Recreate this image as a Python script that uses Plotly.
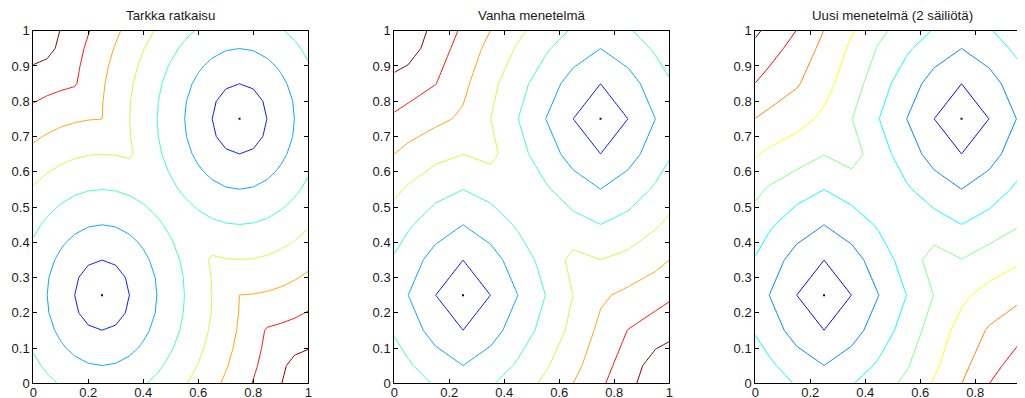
import plotly.graph_objects as go

# ---------------- data ----------------
titles = ["Tarkka ratkaisu", "Vanha menetelmä", "Uusi menetelmä (2 säiliötä)"]

# wells (level-0 points)
wells_x = [0.25, 0.75]
wells_y = [0.25, 0.75]

# fine grid (exact solution)
grid_fine = [0, 0.05, 0.1, 0.15, 0.2, 0.25, 0.3, 0.35, 0.4, 0.45, 0.5,
             0.55, 0.6, 0.65, 0.7, 0.75, 0.8, 0.85, 0.9, 0.95, 1.0]

# coarse grid (numerical methods)
grid_coarse = [0, 0.05, 0.15, 0.25, 0.35, 0.45, 0.55, 0.65, 0.75, 0.85, 0.95, 1.0]

z_exact = [
    [3.54, 3.2, 2.92, 2.69, 2.55, 2.5, 2.55, 2.69, 2.92, 3.2, 3.54, 3.91, 4.3, 4.72, 5.15, 5.59, 6.04, 6.5, 6.96, 7.43, 7.91],
    [3.2, 2.83, 2.5, 2.24, 2.06, 2.0, 2.06, 2.24, 2.5, 2.83, 3.2, 3.61, 4.03, 4.47, 4.92, 5.39, 5.85, 6.32, 6.8, 7.28, 7.43],
    [2.92, 2.5, 2.12, 1.8, 1.58, 1.5, 1.58, 1.8, 2.12, 2.5, 2.92, 3.35, 3.81, 4.27, 4.74, 5.22, 5.7, 6.19, 6.67, 6.8, 6.96],
    [2.69, 2.24, 1.8, 1.41, 1.12, 1.0, 1.12, 1.41, 1.8, 2.24, 2.69, 3.16, 3.64, 4.12, 4.61, 5.1, 5.59, 6.08, 6.19, 6.32, 6.5],
    [2.55, 2.06, 1.58, 1.12, 0.71, 0.5, 0.71, 1.12, 1.58, 2.06, 2.55, 3.04, 3.54, 4.03, 4.53, 5.03, 5.52, 5.59, 5.7, 5.85, 6.04],
    [2.5, 2.0, 1.5, 1.0, 0.5, 0.0, 0.5, 1.0, 1.5, 2.0, 2.5, 3.0, 3.5, 4.0, 4.5, 5.0, 5.03, 5.1, 5.22, 5.39, 5.59],
    [2.55, 2.06, 1.58, 1.12, 0.71, 0.5, 0.71, 1.12, 1.58, 2.06, 2.55, 3.04, 3.54, 4.03, 4.53, 4.5, 4.53, 4.61, 4.74, 4.92, 5.15],
    [2.69, 2.24, 1.8, 1.41, 1.12, 1.0, 1.12, 1.41, 1.8, 2.24, 2.69, 3.16, 3.64, 4.12, 4.03, 4.0, 4.03, 4.12, 4.27, 4.47, 4.72],
    [2.92, 2.5, 2.12, 1.8, 1.58, 1.5, 1.58, 1.8, 2.12, 2.5, 2.92, 3.35, 3.81, 3.64, 3.54, 3.5, 3.54, 3.64, 3.81, 4.03, 4.3],
    [3.2, 2.83, 2.5, 2.24, 2.06, 2.0, 2.06, 2.24, 2.5, 2.83, 3.2, 3.61, 3.35, 3.16, 3.04, 3.0, 3.04, 3.16, 3.35, 3.61, 3.91],
    [3.54, 3.2, 2.92, 2.69, 2.55, 2.5, 2.55, 2.69, 2.92, 3.2, 3.54, 3.2, 2.92, 2.69, 2.55, 2.5, 2.55, 2.69, 2.92, 3.2, 3.54],
    [3.91, 3.61, 3.35, 3.16, 3.04, 3.0, 3.04, 3.16, 3.35, 3.61, 3.2, 2.83, 2.5, 2.24, 2.06, 2.0, 2.06, 2.24, 2.5, 2.83, 3.2],
    [4.3, 4.03, 3.81, 3.64, 3.54, 3.5, 3.54, 3.64, 3.81, 3.35, 2.92, 2.5, 2.12, 1.8, 1.58, 1.5, 1.58, 1.8, 2.12, 2.5, 2.92],
    [4.72, 4.47, 4.27, 4.12, 4.03, 4.0, 4.03, 4.12, 3.64, 3.16, 2.69, 2.24, 1.8, 1.41, 1.12, 1.0, 1.12, 1.41, 1.8, 2.24, 2.69],
    [5.15, 4.92, 4.74, 4.61, 4.53, 4.5, 4.53, 4.03, 3.54, 3.04, 2.55, 2.06, 1.58, 1.12, 0.71, 0.5, 0.71, 1.12, 1.58, 2.06, 2.55],
    [5.59, 5.39, 5.22, 5.1, 5.03, 5.0, 4.5, 4.0, 3.5, 3.0, 2.5, 2.0, 1.5, 1.0, 0.5, 0.0, 0.5, 1.0, 1.5, 2.0, 2.5],
    [6.04, 5.85, 5.7, 5.59, 5.52, 5.03, 4.53, 4.03, 3.54, 3.04, 2.55, 2.06, 1.58, 1.12, 0.71, 0.5, 0.71, 1.12, 1.58, 2.06, 2.55],
    [6.5, 6.32, 6.19, 6.08, 5.59, 5.1, 4.61, 4.12, 3.64, 3.16, 2.69, 2.24, 1.8, 1.41, 1.12, 1.0, 1.12, 1.41, 1.8, 2.24, 2.69],
    [6.96, 6.8, 6.67, 6.19, 5.7, 5.22, 4.74, 4.27, 3.81, 3.35, 2.92, 2.5, 2.12, 1.8, 1.58, 1.5, 1.58, 1.8, 2.12, 2.5, 2.92],
    [7.43, 7.28, 6.8, 6.32, 5.85, 5.39, 4.92, 4.47, 4.03, 3.61, 3.2, 2.83, 2.5, 2.24, 2.06, 2.0, 2.06, 2.24, 2.5, 2.83, 3.2],
    [7.91, 7.43, 6.96, 6.5, 6.04, 5.59, 5.15, 4.72, 4.3, 3.91, 3.54, 3.2, 2.92, 2.69, 2.55, 2.5, 2.55, 2.69, 2.92, 3.2, 3.54],
]

z_old = [
    [3.83, 3.50, 2.89, 2.5, 2.89, 3.50, 4.20, 4.99, 5.83, 6.71, 7.61, 8.07],
    [3.50, 3.13, 2.45, 2.0, 2.45, 3.13, 3.88, 4.71, 5.59, 6.50, 7.43, 7.61],
    [2.89, 2.45, 1.63, 1.0, 1.63, 2.45, 3.34, 4.26, 5.22, 6.02, 6.50, 6.71],
    [2.5, 2.0, 1.0, 0.0, 1.0, 2.0, 3.0, 4.0, 4.85, 5.22, 5.59, 5.83],
    [2.89, 2.45, 1.63, 1.0, 1.63, 2.45, 3.34, 4.26, 4.0, 4.26, 4.71, 4.99],
    [3.50, 3.13, 2.45, 2.0, 2.45, 3.13, 3.88, 3.34, 3.0, 3.34, 3.88, 4.20],
    [4.20, 3.88, 3.34, 3.0, 3.34, 3.88, 3.13, 2.45, 2.0, 2.45, 3.13, 3.50],
    [4.99, 4.71, 4.26, 4.0, 4.26, 3.34, 2.45, 1.63, 1.0, 1.63, 2.45, 2.89],
    [5.83, 5.59, 5.22, 4.85, 4.0, 3.0, 2.0, 1.0, 0.0, 1.0, 2.0, 2.5],
    [6.71, 6.50, 6.02, 5.22, 4.26, 3.34, 2.45, 1.63, 1.0, 1.63, 2.45, 2.89],
    [7.61, 7.43, 6.50, 5.59, 4.71, 3.88, 3.13, 2.45, 2.0, 2.45, 3.13, 3.50],
    [8.07, 7.61, 6.71, 5.83, 4.99, 4.20, 3.50, 2.89, 2.5, 2.89, 3.50, 3.83],
]

z_new = [
    [3.9, 3.6, 2.9, 2.5, 2.93, 3.55, 4.22, 5.08, 5.98, 6.98, 7.76, 8.16],
    [3.6, 3.2, 2.45, 2.0, 2.45, 3.15, 3.9, 4.82, 5.74, 6.62, 7.41, 7.76],
    [2.9, 2.45, 1.63, 1.0, 1.63, 2.45, 3.42, 4.45, 5.34, 6.1, 6.62, 6.98],
    [2.5, 2.0, 1.0, 0.0, 1.0, 2.0, 3.0, 4.02, 4.8, 5.34, 5.74, 5.98],
    [2.93, 2.45, 1.63, 1.0, 1.63, 2.45, 3.44, 4.4, 4.02, 4.45, 4.82, 5.08],
    [3.55, 3.15, 2.45, 2.0, 2.45, 3.13, 3.85, 3.44, 3.0, 3.42, 3.9, 4.22],
    [4.22, 3.9, 3.42, 3.0, 3.44, 3.85, 3.13, 2.45, 2.0, 2.45, 3.15, 3.55],
    [5.08, 4.82, 4.45, 4.02, 4.4, 3.44, 2.45, 1.63, 1.0, 1.63, 2.45, 2.93],
    [5.98, 5.74, 5.34, 4.8, 4.02, 3.0, 2.0, 1.0, 0.0, 1.0, 2.0, 2.5],
    [6.98, 6.62, 6.1, 5.34, 4.45, 3.42, 2.45, 1.63, 1.0, 1.63, 2.45, 2.9],
    [7.76, 7.41, 6.62, 5.74, 4.82, 3.9, 3.15, 2.45, 2.0, 2.45, 3.2, 3.6],
    [8.16, 7.76, 6.98, 5.98, 5.08, 4.22, 3.55, 2.93, 2.5, 2.9, 3.6, 3.9],
]

# contour levels (0 .. top level) per panel
top_level = [7, 7, 8]

x_tickvals = [0, 0.2, 0.4, 0.6, 0.8, 1]
x_ticktext = ["0", "0.2", "0.4", "0.6", "0.8", "1"]
y_tickvals = [0, 0.1, 0.2, 0.3, 0.4, 0.5, 0.6, 0.7, 0.8, 0.9, 1]
y_ticktext = ["0", "0.1", "0.2", "0.3", "0.4", "0.5", "0.6", "0.7", "0.8", "0.9", "1"]

# ---------------- style ----------------
W, H = 1025, 398
OFF = 8.0  # page body margin offset
FONT = "Liberation Sans, Arial, Helvetica, sans-serif"
jet = [[0.0, "rgb(0,0,131)"], [0.125, "rgb(0,0,255)"], [0.375, "rgb(0,255,255)"],
       [0.625, "rgb(255,255,0)"], [0.875, "rgb(255,0,0)"], [1.0, "rgb(128,0,0)"]]

left_px = [33.3 - OFF, 394.3 - OFF, 755.3 - OFF]
width_px = 275.0
top_px, bottom_px = 30.7 - OFF, 383.3 - OFF

fig = go.Figure()
panels = [(grid_fine, z_exact), (grid_coarse, z_old), (grid_coarse, z_new)]

for k, (g, z) in enumerate(panels):
    xa = "x" if k == 0 else f"x{k+1}"
    ya = "y" if k == 0 else f"y{k+1}"
    fig.add_trace(go.Contour(
        x=g, y=g, z=z, xaxis=xa, yaxis=ya,
        autocontour=False,
        contours=dict(start=-0.005, end=top_level[k] - 0.005, size=1,
                      coloring="lines", showlabels=False),
        colorscale=jet, showscale=False,
        line=dict(width=1, smoothing=0),
        hoverinfo="skip",
    ))
    fig.add_trace(go.Scatter(
        x=wells_x, y=wells_y, xaxis=xa, yaxis=ya, mode="markers",
        marker=dict(symbol="square", size=2, color="rgb(0,0,131)", line=dict(width=0)),
        hoverinfo="skip", showlegend=False,
    ))

axis_common = dict(showline=True, linecolor="black", linewidth=1, ticks="inside",
                   ticklen=4, tickcolor="black", tickwidth=1, showgrid=False,
                   zeroline=False, automargin=False,
                   tickfont=dict(family=FONT, size=13, color="#1a1a1a"))

layout = dict(template="none", width=W, height=H, margin=dict(l=0, r=0, t=0, b=0, pad=0),
              paper_bgcolor="white", plot_bgcolor="white", showlegend=False)

ydom = [(H - bottom_px) / H, (H - top_px) / H]
annotations = []
for k in range(3):
    x0 = left_px[k] / W
    x1 = (left_px[k] + width_px) / W
    suffix = "" if k == 0 else str(k + 1)
    layout["xaxis" + suffix] = dict(axis_common, domain=[x0, x1], range=[0, 1],
                                    tickmode="array", tickvals=x_tickvals, ticktext=x_ticktext,
                                    ticklabelstandoff=-3,
                                    mirror="ticks", anchor="y" + suffix)
    layout["yaxis" + suffix] = dict(axis_common, domain=ydom, range=[0, 1],
                                    tickmode="array", tickvals=y_tickvals, ticktext=y_ticktext,
                                    mirror="ticks", anchor="x" + suffix)
    annotations.append(dict(text=titles[k], xref="paper", yref="paper",
                            x=(left_px[k] + width_px / 2) / W, y=(H - (16.0 - OFF)) / H,
                            xanchor="center", yanchor="middle", showarrow=False,
                            font=dict(family=FONT, size=13.3, color="#1a1a1a")))
layout["annotations"] = annotations

fig.update_layout(**layout)
fig.write_html("out.html")
